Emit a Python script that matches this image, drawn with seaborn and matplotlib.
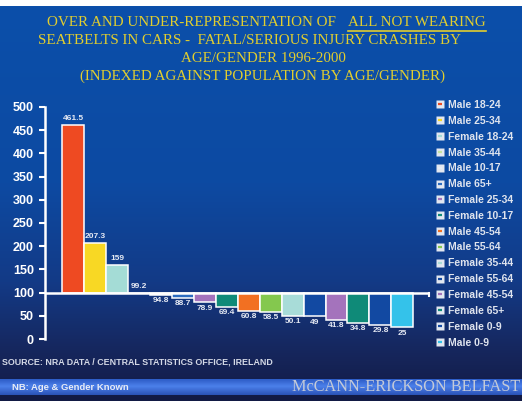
import numpy as np
import pandas as pd
import seaborn as sns
import matplotlib.pyplot as plt
from matplotlib.colors import LinearSegmentedColormap
from matplotlib.lines import Line2D

# data (index, 100 = population share)
groups = ['Male 18-24', 'Male 25-34', 'Female 18-24', 'Male 35-44', 'Male 10-17',
          'Male 65+', 'Female 25-34', 'Female 10-17', 'Male 45-54', 'Male 55-64',
          'Female 35-44', 'Female 55-64', 'Female 45-54', 'Female 65+',
          'Female 0-9', 'Male 0-9']
index_values = [461.5, 207.3, 159, 99.2, 94.8, 88.7, 78.9, 69.4, 60.8, 58.5,
                50.1, 49, 41.8, 34.8, 29.8, 25]
value_labels = ['461.5', '207.3', '159', '99.2', '94.8', '88.7', '78.9', '69.4',
                '60.8', '58.5', '50.1', '49', '41.8', '34.8', '29.8', '25']
bar_colors = ['#ee4a22', '#f8d824', '#a4dcd6', '#c4e2a0', '#e6edf6', '#2c6cc0',
              '#a473bc', '#0f8a78', '#f27022', '#84c84e', '#a8dcd8', '#1249a2',
              '#a473bc', '#0f8a78', '#1249a2', '#34c2ea']
y_ticks = [0, 50, 100, 150, 200, 250, 300, 350, 400, 450, 500]
baseline = 100

W, H = 525, 401
fig = plt.figure(figsize=(W / 100, H / 100), dpi=100)
fig.patch.set_facecolor('white')

def fx(px):
    return px / W

def fy(py):
    return 1 - py / H

# background gradient
bg = fig.add_axes([0, 0, fx(522), (H - 6) / H], zorder=-2)
bg_cmap = LinearSegmentedColormap.from_list(
    'bg', [(0, '#0b4faa'), (0.45, '#0d4aa2'), (0.7, '#133a86'),
           (0.88, '#16265c'), (1, '#121a44')])
bg.imshow(np.linspace(0, 1, 256).reshape(-1, 1), aspect='auto', cmap=bg_cmap,
          extent=[0, 1, 1, 0])
bg.axis('off')

# footer band
band = fig.add_axes([0, fy(395), fx(522), 16 / H], zorder=-1)
band_cmap = LinearSegmentedColormap.from_list(
    'band', [(0, '#2d5cc6'), (0.45, '#4c80ea'), (1, '#2a52b6')])
band.imshow(np.linspace(0, 1, 64).reshape(-1, 1), aspect='auto', cmap=band_cmap,
            extent=[0, 1, 1, 0])
band.axis('off')

# main chart
ax = fig.add_axes([fx(45), fy(339), fx(430 - 45), (339 - 107) / H])
ax.set_facecolor('none')

df = pd.DataFrame({'group': groups, 'diff': np.array(index_values) - baseline})
sns.barplot(data=df, x='group', y='diff', hue='group', order=groups,
            palette=bar_colors, width=1, edgecolor='white', linewidth=1.1,
            saturation=1, legend=False, ax=ax)

ax.set_xlim(-1.28, 16.26)
ax.set_ylim(y_ticks[0] - baseline, y_ticks[-1] - baseline)
ax.set_yticks([t - baseline for t in y_ticks])
ax.set_yticklabels([str(t) for t in y_ticks], fontsize=9, fontweight='bold',
                   color='white', family='Liberation Sans')
ax.set_xticks([])
ax.set_xlabel('')
ax.set_ylabel('')
ax.tick_params(axis='y', colors='white', length=4, width=1.5, pad=4)
for side in ['top', 'right', 'bottom']:
    ax.spines[side].set_visible(False)
ax.spines['left'].set_color('white')
ax.spines['left'].set_linewidth(1.8)

# baseline line at 100 with the little end tick
ax.axhline(0, color='white', lw=1.8, zorder=5)
ax.plot([16.2, 16.2], [0, -7], color='white', lw=1.5, clip_on=False)

for i, (v, lab) in enumerate(zip(index_values, value_labels)):
    d = v - baseline
    if v >= 99:
        ax.text(i, max(d, 0) + 6, lab, ha='center', va='bottom', fontsize=6,
                fontweight='bold', color='#e6eaf4', family='Liberation Sans')
    else:
        ax.text(i, d - 5, lab, ha='center', va='top', fontsize=6,
                fontweight='bold', color='#e6eaf4', family='Liberation Sans')

# legend: white square with a coloured dash
handles = []
for c in bar_colors:
    handles.append((Line2D([], [], marker='s', ls='', mfc='#e2e7f0', mec='none', ms=6),
                    Line2D([], [], marker='_', ls='', mec=c, ms=3.5, mew=1.6)))
fig.legend(handles, groups, loc='upper left', bbox_to_anchor=(fx(436), fy(100)),
           frameon=False, prop={'family': 'Liberation Sans', 'weight': 'bold', 'size': 7.5},
           labelcolor='#dfe4ee', handlelength=0.8, handletextpad=0.35,
           labelspacing=0.56, borderaxespad=0, borderpad=0)

# titles
title_kw = dict(color='#e2ce2e', family='Liberation Serif', fontsize=10.8,
                va='center')
fig.text(fx(336), fy(23), 'OVER AND UNDER-REPRESENTATION OF', ha='right', **title_kw)
tb = fig.text(fx(348), fy(23), 'ALL NOT WEARING', ha='left', **title_kw)
fig.text(fx(249), fy(41), 'SEATBELTS IN CARS -  FATAL/SERIOUS INJURY CRASHES BY',
         ha='center', **title_kw)
fig.text(fx(263), fy(59), 'AGE/GENDER 1996-2000', ha='center', **title_kw)
fig.text(fx(263), fy(76), '(INDEXED AGAINST POPULATION BY AGE/GENDER)',
         ha='center', **title_kw)

fig.canvas.draw()
bb = tb.get_window_extent()
p0 = fig.transFigure.inverted().transform((bb.x0, bb.y0 - 1))
p1 = fig.transFigure.inverted().transform((bb.x1, bb.y0 - 1))
fig.add_artist(Line2D([p0[0], p1[0]], [p0[1], p1[1]], color='#e2ce2e', lw=1.2))

# footer texts
fig.text(fx(2), fy(362), 'SOURCE: NRA DATA / CENTRAL STATISTICS OFFICE, IRELAND',
         ha='left', va='center', fontsize=6.4, fontweight='bold',
         color='#d4d9e6', family='Liberation Sans')
fig.text(fx(12), fy(388), 'NB: Age & Gender Known', ha='left', va='center',
         fontsize=6.8, fontweight='bold', color='#e8ecf6', family='Liberation Sans')
fig.text(fx(520), fy(387), 'McCANN-ERICKSON BELFAST', ha='right', va='center',
         fontsize=11.7, color='#c4cad8', family='Liberation Serif')

fig.savefig('out.png', dpi=100, facecolor=fig.get_facecolor())
